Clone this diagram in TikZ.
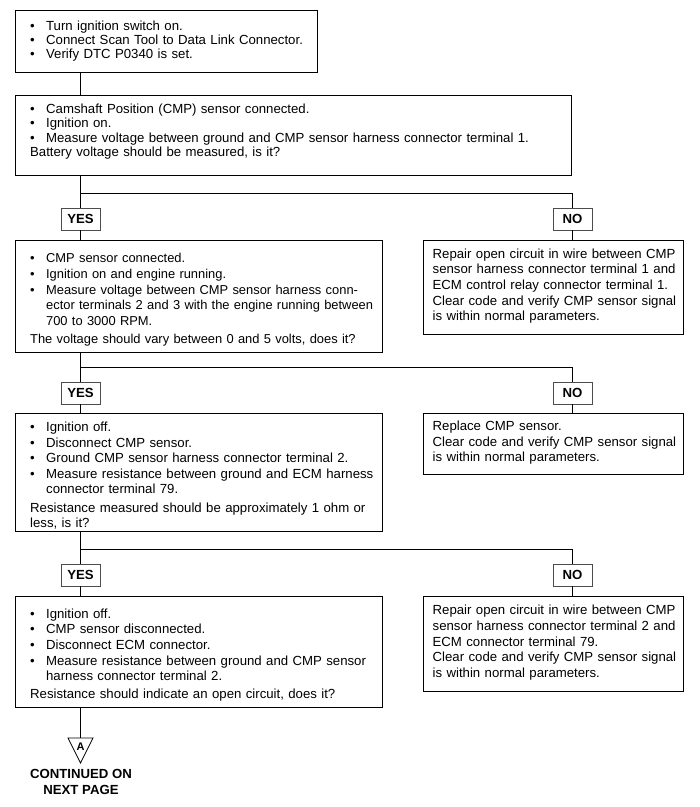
\documentclass[tikz,border=0pt]{standalone}
\usepackage{fontspec}
\setmainfont{Liberation Sans}
\newcommand{\bitem}{\par\hangindent=16pt\hangafter=1\noindent\hbox to 16pt{\textbullet\hfil}}
\newcommand{\qline}{\par\vspace{2.5pt}\noindent}
\newcommand{\brk}{\hfil\break}
\begin{document}
\begin{tikzpicture}[x=1pt,y=-1pt,
  box/.style={draw, line width=1.3pt, inner sep=0pt, anchor=north west, align=left,
    font=\fontsize{13.2}{15.6}\selectfont},
  lbl/.style={draw=black!70, line width=0.8pt, fill=white, inner sep=0pt,
    minimum width=39pt, minimum height=22pt, font=\bfseries\fontsize{13.2}{15}\selectfont},
  conn/.style={line width=0.9pt}]
\useasboundingbox (0,0) rectangle (700,807);

% main column
\node[box, text width=302pt, minimum height=62pt, font=\fontsize{13.2}{14}\selectfont] (b1) at (15,10)
 {\leftskip=14.5pt
  \bitem Turn ignition switch on.
  \bitem Connect Scan Tool to Data Link Connector.
  \bitem Verify DTC P0340 is set.\par\kern5pt};

\node[box, text width=556pt, minimum height=80pt, font=\fontsize{13.2}{14.5}\selectfont] (b2) at (15,95)
 {\leftskip=14.5pt
  \bitem Camshaft Position (CMP) sensor connected.
  \bitem Ignition on.
  \bitem Measure voltage between ground and CMP sensor harness connector terminal 1.
  \par\noindent Battery voltage should be measured, is it?\par\kern13pt};

\node[box, text width=367pt, minimum height=112pt, font=\fontsize{12.9}{15.6}\selectfont] (b3) at (15,240)
 {\leftskip=14.5pt
  \bitem CMP sensor connected.
  \bitem Ignition on and engine running.
  \bitem Measure voltage between CMP sensor harness conn-\brk ector terminals 2 and 3 with the engine running between\brk 700 to 3000 RPM.
  \qline The voltage should vary between 0 and 5 volts, does it?\par};

\node[box, text width=260pt, minimum height=94pt] (r1) at (423,240)
 {\leftskip=9pt\noindent
  Repair open circuit in wire between CMP\\sensor harness connector terminal 1 and\\ECM control relay connector terminal 1.\\Clear code and verify CMP sensor signal\\is within normal parameters.\par\kern3pt};

\node[box, text width=367pt, minimum height=118pt] (b4) at (15,413)
 {\leftskip=14.5pt
  \bitem Ignition off.
  \bitem Disconnect CMP sensor.
  \bitem Ground CMP sensor harness connector terminal 2.
  \bitem Measure resistance between ground and ECM harness\brk connector terminal 79.
  \qline Resistance measured should be approximately 1 ohm or\\less, is it?\par};

\node[box, text width=260pt, minimum height=61pt] (r2) at (423,413)
 {\leftskip=9pt\noindent
  Replace CMP sensor.\\Clear code and verify CMP sensor signal\\is within normal parameters.\par\kern3pt};

\node[box, text width=367pt, minimum height=111pt] (b5) at (15,596)
 {\leftskip=14.5pt
  \bitem Ignition off.
  \bitem CMP sensor disconnected.
  \bitem Disconnect ECM connector.
  \bitem Measure resistance between ground and CMP sensor\brk harness connector terminal 2.
  \qline Resistance should indicate an open circuit, does it?\par};

\node[box, text width=260pt, minimum height=95pt] (r3) at (423,596)
 {\leftskip=9pt\noindent
  Repair open circuit in wire between CMP\\sensor harness connector terminal 2 and\\ECM connector terminal 79.\\Clear code and verify CMP sensor signal\\is within normal parameters.\par\kern3pt};

% labels
\node[lbl] (y1) at (80.5,219) {YES};
\node[lbl] (n1) at (572.5,219) {NO};
\node[lbl] (y2) at (80.5,393) {YES};
\node[lbl] (n2) at (572.5,393) {NO};
\node[lbl] (y3) at (80.5,575) {YES};
\node[lbl] (n3) at (572.5,575) {NO};

\coordinate (h1) at (80.5,193);
\coordinate (h2) at (80.5,367);
\coordinate (h3) at (80.5,549);
\coordinate (ta) at (80.5,738);

% connectors
\draw[conn] (b1.south -| y1) -- (b2.north -| y1);

\draw[conn] (b2.south -| y1) -- (y1.north);
\draw[conn] (h1) -| (n1.north);
\draw[conn] (y1.south) -- (b3.north -| y1);
\draw[conn] (n1.south) -- (r1.north -| n1);

\draw[conn] (b3.south -| y2) -- (y2.north);
\draw[conn] (h2) -| (n2.north);
\draw[conn] (y2.south) -- (b4.north -| y2);
\draw[conn] (n2.south) -- (r2.north -| n2);

\draw[conn] (b4.south -| y3) -- (y3.north);
\draw[conn] (h3) -| (n3.north);
\draw[conn] (y3.south) -- (b5.north -| y3);
\draw[conn] (n3.south) -- (r3.north -| n3);

\draw[conn] (b5.south -| ta) -- (ta);

% off-page connector
\draw[line width=0.8pt, line join=miter] (68,738) -- (93,738) -- (80.5,763) -- cycle;
\node[font=\bfseries\fontsize{11}{12}\selectfont, inner sep=0pt] (A) at (80.5,747) {A};
\node[font=\bfseries\fontsize{13.2}{16}\selectfont, align=center, inner sep=0pt] (cont) at (81,782)
 {CONTINUED ON\\NEXT PAGE};
\end{tikzpicture}
\end{document}
